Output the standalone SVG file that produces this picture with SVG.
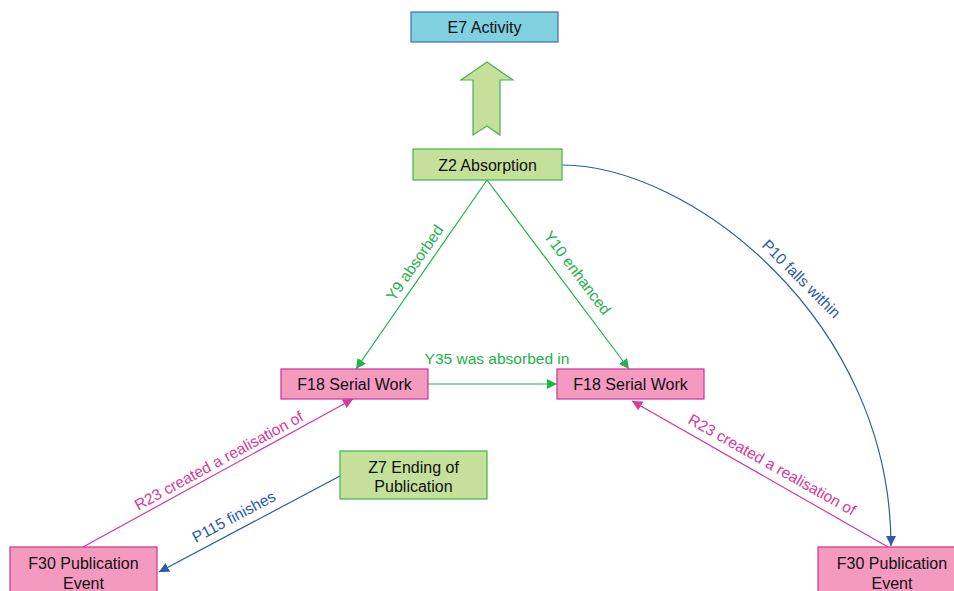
<svg xmlns="http://www.w3.org/2000/svg" width="954" height="591" viewBox="0 0 954 591">
<defs>
<style>
.node text{font-family:"Liberation Sans",Arial,sans-serif;font-size:16px;fill:#111;text-anchor:middle}
.lbl{font-family:"Liberation Sans",Arial,sans-serif;font-size:15.5px;text-anchor:middle}
.pink rect{fill:#f49ac1;stroke:#c4378f;stroke-width:1.2}
.green rect{fill:#c5e09b;stroke:#3db54a;stroke-width:1.2}
.g{stroke:#22b14c;fill:none;stroke-width:1.2}
.p{stroke:#d6389b;fill:none;stroke-width:1.2}
.b{stroke:#2e5aa8;fill:none;stroke-width:1.2}
</style>
<marker id="ag" viewBox="0 0 10 10" refX="10" refY="5" markerWidth="10" markerHeight="10" markerUnits="userSpaceOnUse" orient="auto"><path d="M0,0 L10,5 L0,10 z" fill="#22b14c"/></marker>
<marker id="ap" viewBox="0 0 10 10" refX="10" refY="5" markerWidth="10" markerHeight="10" markerUnits="userSpaceOnUse" orient="auto"><path d="M0,0 L10,5 L0,10 z" fill="#d6389b"/></marker>
<marker id="ab" viewBox="0 0 10 10" refX="10" refY="5" markerWidth="10" markerHeight="10" markerUnits="userSpaceOnUse" orient="auto"><path d="M0,0 L10,5 L0,10 z" fill="#2e5aa8"/></marker>
</defs>
<rect width="954" height="591" fill="#fff"/>
<g id="connectors">
<polygon points="487,62 513,80 500,80 500,135 487,126 473,135 473,80 461,80" fill="#c5e09b" stroke="#4cb050" stroke-width="1.2"/>
<line class="g" x1="487" y1="180" x2="356" y2="369" marker-end="url(#ag)"/>
<line class="g" x1="487" y1="180" x2="629" y2="369" marker-end="url(#ag)"/>
<line class="g" x1="428" y1="384" x2="557" y2="384" marker-end="url(#ag)"/>
<path class="b" d="M562,165 C690,165 891,320 891,546" marker-end="url(#ab)"/>
<line class="p" x1="888" y1="547" x2="632" y2="401" marker-end="url(#ap)"/>
<line class="p" x1="83" y1="547" x2="353" y2="399" marker-end="url(#ap)"/>
<line class="b" x1="340" y1="476" x2="159" y2="572" marker-end="url(#ab)"/>
<text class="lbl" fill="#22b14c" x="497" y="364">Y35 was absorbed in</text>
<text class="lbl" fill="#22b14c" transform="translate(415,263) rotate(-55.3)" y="5">Y9 absorbed</text>
<text class="lbl" fill="#22b14c" transform="translate(577,273) rotate(53)" y="5">Y10 enhanced</text>
<text class="lbl" fill="#2e5aa8" transform="translate(801,279) rotate(45)" y="5">P10 falls within</text>
<text class="lbl" fill="#d6389b" transform="translate(772,465) rotate(29.5)" y="5">R23 created a realisation of</text>
<text class="lbl" fill="#d6389b" transform="translate(219,461) rotate(-28.6)" y="5">R23 created a realisation of</text>
<text class="lbl" fill="#2e5aa8" transform="translate(234,517) rotate(-28)" y="5">P115 finishes</text>
</g>
<g id="e7" class="node"><rect x="411" y="12" width="147" height="30" fill="#80d0e0" stroke="#3d6fb5" stroke-width="1.2"/><text x="484.5" y="33">E7 Activity</text></g>
<g id="z2" class="node green"><rect x="413" y="149" width="149" height="31"/><text x="487.5" y="170.5">Z2 Absorption</text></g>
<g id="f18a" class="node pink"><rect x="281" y="369" width="147" height="30"/><text x="354.5" y="390">F18 Serial Work</text></g>
<g id="f18b" class="node pink"><rect x="557" y="369" width="147" height="30"/><text x="630.5" y="390">F18 Serial Work</text></g>
<g id="z7" class="node green"><rect x="340" y="451" width="147" height="48"/><text x="413.5" y="472.5">Z7 Ending of</text><text x="413.5" y="491.5">Publication</text></g>
<g id="f30a" class="node pink"><rect x="10" y="547" width="147" height="50"/><text x="83.5" y="568.5">F30 Publication</text><text x="83.5" y="588.5">Event</text></g>
<g id="f30b" class="node pink"><rect x="818" y="547" width="148" height="50"/><text x="892" y="568.5">F30 Publication</text><text x="892" y="588.5">Event</text></g>
</svg>
